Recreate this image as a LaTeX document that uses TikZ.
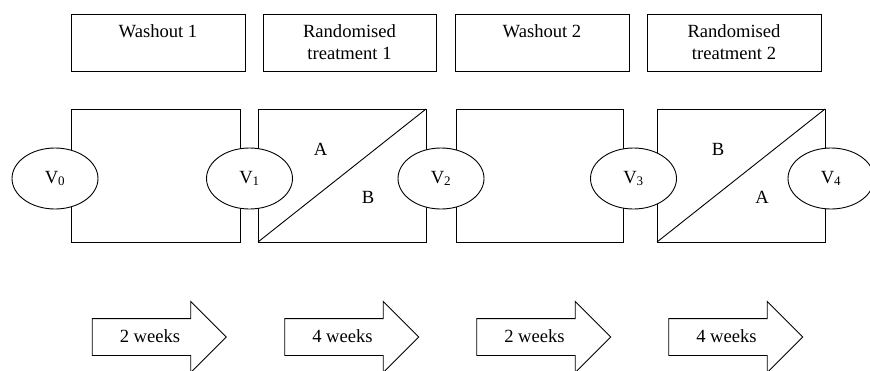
\documentclass[tikz,border=0pt]{standalone}
\usepackage{fontspec}
\setmainfont{Liberation Serif}
\usetikzlibrary{shapes.geometric,shapes.arrows}
\tikzset{
  every node/.style={font=\fontsize{18.6}{22}\selectfont},
  phase/.style={draw,line width=0.9pt,minimum height=57,align=center,inner sep=0,outer sep=0},
  period/.style={draw,line width=0.9pt,minimum height=133,inner sep=0,outer sep=0},
  visit/.style={draw,ellipse,fill=white,line width=0.9pt,minimum width=86,minimum height=61,inner sep=0},
  weeks/.style={draw,single arrow,line width=0.9pt,minimum height=134,single arrow head extend=17,
    text height=13,text depth=3,inner ysep=10}
}

\begin{document}
\begin{tikzpicture}[x=1pt,y=-1pt]
\useasboundingbox (0,0) rectangle (870,370);
% phases
\node[phase,minimum width=174] (wash1) at (158,42.5) {Washout 1\\~};
\node[phase,minimum width=173] (treat1) at (349.5,42.5) {Randomised\\treatment 1};
\node[phase,minimum width=174] (wash2) at (542,42.5) {Washout 2\\~};
\node[phase,minimum width=174] (treat2) at (734,42.5) {Randomised\\treatment 2};
% periods
\node[period,minimum width=169] (per1) at (155.5,175.5) {};
\node[period,minimum width=168] (per2) at (342,175.5) {};
\node[period,minimum width=167] (per3) at (539.5,175.5) {};
\node[period,minimum width=168] (per4) at (741,175.5) {};
\draw[line width=0.9pt] (per2.south west) -- (per2.north east);
\draw[line width=0.9pt] (per4.south west) -- (per4.north east);
\node (a1) at (320.5,149) {A};
\node (b1) at (368,197) {B};
\node (b2) at (718,149) {B};
\node (a2) at (762,197) {A};
% visits
\node[visit] (v0) at (55,178.5) {V\textsubscript{0}};
\node[visit] (v1) at (249.5,178.5) {V\textsubscript{1}};
\node[visit] (v2) at (441,178.5) {V\textsubscript{2}};
\node[visit] (v3) at (633.5,178.5) {V\textsubscript{3}};
\node[visit] (v4) at (831,178.5) {V\textsubscript{4}};
% durations
\node[weeks] (d1) at (150,337) {2 weeks};
\node[weeks] (d2) at (342.5,337) {4 weeks};
\node[weeks] (d3) at (534.5,337) {2 weeks};
\node[weeks] (d4) at (726.5,337) {4 weeks};
\end{tikzpicture}
\end{document}
